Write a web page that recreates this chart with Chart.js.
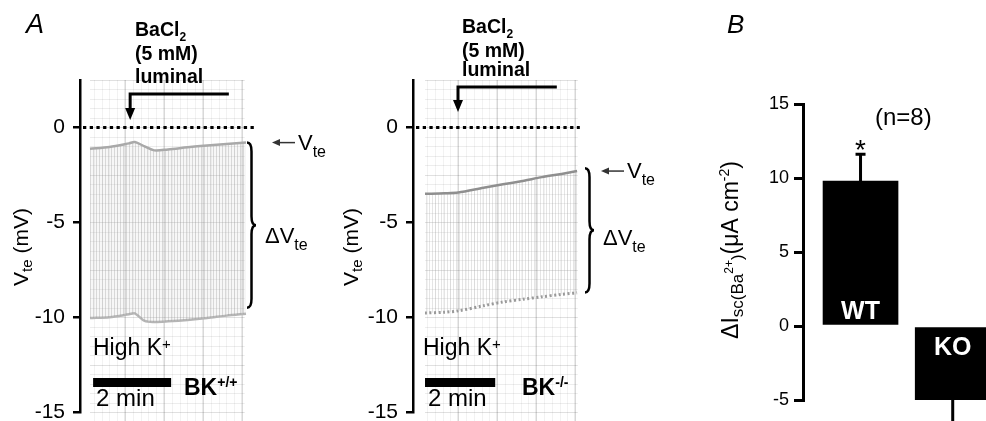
<!DOCTYPE html>
<html>
<head>
<meta charset="utf-8">
<script src="https://cdn.jsdelivr.net/npm/chart.js@4.4.1/dist/chart.umd.min.js"></script>
<style>
  html, body { margin: 0; padding: 0; background: #fff; }
  #wrap { position: relative; width: 986px; height: 421px; overflow: hidden; }
  canvas { position: absolute; top: 0; }
</style>
</head>
<body>
<div id="wrap">
  <canvas id="traceWT" width="340" height="421" style="left:0"></canvas>
  <canvas id="traceKO" width="340" height="421" style="left:330px"></canvas>
  <canvas id="barChart" width="326" height="421" style="left:660px"></canvas>
</div>
<script>
// --- data ---
const vteTicks = [0, -5, -10, -15];

// BK+/+ trace envelopes (min, mV)
const timeWT = [0, 0.5, 1.0, 1.15, 1.4, 1.65, 2.0, 2.5, 3.0, 3.5, 4.0];
const topWT = [-1.12, -1.03, -0.84, -0.77, -1.0, -1.21, -1.16, -1.05, -0.95, -0.87, -0.8];
const bottomWT = [-10.05, -10.0, -9.85, -9.8, -10.2, -10.25, -10.22, -10.15, -10.05, -9.92, -9.82];

// BK-/- trace envelopes
const timeKO = [0, 0.5, 0.85, 1.5, 2.0, 2.5, 3.0, 3.5, 3.9];
const topKO = [-3.5, -3.47, -3.43, -3.18, -3.0, -2.82, -2.62, -2.45, -2.3];
const bottomKO = [-9.78, -9.74, -9.67, -9.4, -9.2, -9.06, -8.93, -8.8, -8.72];

// panel B
const groups = ['WT', 'KO'];
const deltaIsc = [9.8, -5.0];
const deltaIscErr = [1.8, 1.6];
const iscTicks = [-5, 0, 5, 10, 15];

const FONT = "'Liberation Sans', Arial, Helvetica, sans-serif";
const f = (size, bold, italic) => (italic ? 'italic ' : '') + (bold ? 'bold ' : '') + size + 'px ' + FONT;

// text made of pieces: [text, size, dy, bold]
function rich(ctx, parts, x, y, align) {
    let w = 0;
    parts.forEach(p => { ctx.font = f(p[1], p[3]); w += ctx.measureText(p[0]).width; });
    let cx = align === 'center' ? x - w / 2 : x;
    ctx.textAlign = 'left';
    ctx.textBaseline = 'alphabetic';
    parts.forEach(p => {
        ctx.font = f(p[1], p[3]);
        ctx.fillText(p[0], cx, y + (p[2] || 0));
        cx += ctx.measureText(p[0]).width;
    });
}

function hatch(ctx, bg, line, step) {
    const c = document.createElement('canvas');
    c.width = step; c.height = 4;
    const g = c.getContext('2d');
    if (bg) { g.fillStyle = bg; g.fillRect(0, 0, step, 4); }
    g.fillStyle = line;
    g.fillRect(0, 0, 1, 4);
    return ctx.createPattern(c, 'repeat');
}

function brace(ctx, x, top, bottom, w) {
    const mid = (top + bottom) / 2, h = w * 0.5;
    ctx.beginPath();
    ctx.moveTo(x, top);
    ctx.quadraticCurveTo(x + h, top, x + h, top + w);
    ctx.lineTo(x + h, mid - w);
    ctx.quadraticCurveTo(x + h, mid, x + w, mid);
    ctx.quadraticCurveTo(x + h, mid, x + h, mid + w);
    ctx.lineTo(x + h, bottom - w);
    ctx.quadraticCurveTo(x + h, bottom, x, bottom);
    ctx.stroke();
}

// chart paper behind the trace
const paperPlugin = {
    id: 'paper',
    beforeDatasetsDraw(chart, args, o) {
        const { ctx, chartArea: a, scales: { x, y } } = chart;
        const l = x.getPixelForValue(0), r = x.getPixelForValue(o.to);
        ctx.save();
        ctx.beginPath();
        ctx.rect(l, a.top, r - l, chart.height - a.top);
        ctx.clip();
        ctx.lineWidth = 1;
        for (let v = -16; v <= 2.5; v += 0.5) {
            const py = Math.round(y.getPixelForValue(v)) + 0.5;
            ctx.strokeStyle = (v % 2.5 === 0) ? 'rgba(0,0,0,0.12)' : 'rgba(0,0,0,0.07)';
            ctx.beginPath(); ctx.moveTo(l, py); ctx.lineTo(r, py); ctx.stroke();
        }
        for (let t = o.major0 - 1; t <= o.to + 0.2; t += 0.2) {
            const px = Math.round(x.getPixelForValue(t)) + 0.5;
            ctx.strokeStyle = 'rgba(0,0,0,0.05)';
            ctx.beginPath(); ctx.moveTo(px, a.top); ctx.lineTo(px, chart.height); ctx.stroke();
        }
        ctx.lineWidth = 1.5;
        ctx.strokeStyle = 'rgba(0,0,0,0.13)';
        for (let t = o.major0; t <= o.to + 0.1; t += 1) {
            const px = x.getPixelForValue(t);
            ctx.beginPath(); ctx.moveTo(px, a.top); ctx.lineTo(px, chart.height); ctx.stroke();
        }
        ctx.restore();
    }
};

// labels, arrows and scale bar on top of a trace panel
const traceNotes = {
    id: 'notes',
    afterDraw(chart, args, o) {
        const { ctx, chartArea: a, scales: { x, y } } = chart;
        ctx.save();
        ctx.fillStyle = '#000';
        ctx.strokeStyle = '#000';

        // dotted zero line
        const y0 = y.getPixelForValue(0);
        ctx.setLineDash([3.3, 3.4]);
        ctx.lineWidth = 3;
        ctx.beginPath(); ctx.moveTo(a.left + 3, y0); ctx.lineTo(x.getPixelForValue(o.zeroEnd), y0); ctx.stroke();
        ctx.setLineDash([]);

        if (o.letter) { ctx.font = f(27, false, true); ctx.textAlign = 'left'; ctx.fillText(o.letter, 26, 33); }

        // BaCl2 application
        rich(ctx, [['BaCl', 19.5, 0, true], ['2', 12, 5, true]], o.bathX, o.bathY[0]);
        rich(ctx, [['(5 mM)', 19.5, 0, true]], o.bathX, o.bathY[1]);
        rich(ctx, [['luminal', 19.5, 0, true]], o.bathX, o.bathY[2]);
        const bx0 = x.getPixelForValue(o.bathOn), bx1 = x.getPixelForValue(o.bathEnd);
        ctx.lineWidth = 3;
        ctx.lineJoin = 'miter';
        ctx.beginPath();
        ctx.moveTo(bx1, o.bathLineY); ctx.lineTo(bx0, o.bathLineY); ctx.lineTo(bx0, o.bathTipY - 10);
        ctx.stroke();
        ctx.beginPath();
        ctx.moveTo(bx0 - 5, o.bathTipY - 12); ctx.lineTo(bx0 + 5, o.bathTipY - 12); ctx.lineTo(bx0, o.bathTipY);
        ctx.closePath(); ctx.fill();

        // Vte arrow at the end of the upper trace
        const top = o.top[o.top.length - 1];
        const ya = y.getPixelForValue(top);
        ctx.strokeStyle = '#333'; ctx.fillStyle = '#333';
        ctx.lineWidth = 1.5;
        ctx.beginPath(); ctx.moveTo(o.tipX + 6, ya); ctx.lineTo(o.tipX + 23, ya); ctx.stroke();
        ctx.beginPath(); ctx.moveTo(o.tipX, ya); ctx.lineTo(o.tipX + 8, ya - 3.5); ctx.lineTo(o.tipX + 8, ya + 3.5); ctx.closePath(); ctx.fill();
        ctx.fillStyle = '#000'; ctx.strokeStyle = '#000';
        rich(ctx, [['V', 22, 0], ['te', 16, 7]], o.tipX + 26, ya + 7);

        // brace and delta Vte
        ctx.lineWidth = 2.5;
        brace(ctx, o.braceX, y.getPixelForValue(o.brace[0]), y.getPixelForValue(o.brace[1]), 9);
        rich(ctx, [['\u0394V', 22, 0], ['te', 16, 7]], o.dX, o.dY);

        // High K+
        rich(ctx, [['High K', 23, 0], ['+', 15, -6]], 93, 355);

        // 2 min scale bar
        const s0 = x.getPixelForValue(o.bar[0]), s1 = x.getPixelForValue(o.bar[1]);
        ctx.fillRect(s0, 378, s1 - s0, 9);
        rich(ctx, [['2 min', 24, 0]], s0 + 3, 406);
        rich(ctx, [['BK', 23, 0, true], [o.bk, 14, -8, true]], o.bkX, 395);

        // axis title
        ctx.translate(28, 247);
        ctx.rotate(-Math.PI / 2);
        rich(ctx, [['V', 21, 0], ['te', 15, 4], [' (mV)', 21, 0]], 0, 0, 'center');
        ctx.restore();
    }
};

function tracePanel(id, o) {
    const ctx = document.getElementById(id).getContext('2d');
    new Chart(ctx, {
        type: 'line',
        data: {
            datasets: [{
                data: o.time.map((t, i) => ({ x: t, y: o.top[i] })),
                borderColor: o.topColor,
                borderWidth: 2.5,
                pointRadius: 0,
                tension: 0.3,
                fill: '+1',
                backgroundColor: o.pattern(ctx)
            }, {
                data: o.time.map((t, i) => ({ x: t, y: o.bottom[i] })),
                borderColor: o.bottomColor,
                borderWidth: o.bottomWidth,
                borderDash: o.bottomDash,
                pointRadius: 0,
                tension: 0.3,
                fill: false
            }]
        },
        options: {
            responsive: false,
            animation: false,
            layout: { padding: { top: 80, bottom: 9, right: 80, left: 0 } },
            plugins: {
                legend: { display: false },
                tooltip: { enabled: false },
                paper: { to: o.paperTo, major0: o.major0 },
                notes: o
            },
            scales: {
                x: { type: 'linear', display: false, min: o.xMin, max: o.xMax },
                y: {
                    min: -15,
                    max: 2.5,
                    afterBuildTicks: s => { s.ticks = vteTicks.map(v => ({ value: v })); },
                    afterFit: s => { s.width = o.axisX; s.paddingTop = 0; s.paddingBottom = 0; },
                    border: { color: '#000', width: 2.5 },
                    grid: { drawOnChartArea: false, drawTicks: true, tickLength: 7, color: '#000', lineWidth: 2.5 },
                    ticks: { color: '#000', padding: 8, font: { family: FONT, size: 21 }, callback: v => String(v) }
                }
            }
        },
        plugins: [paperPlugin, traceNotes]
    });
}

tracePanel('traceWT', {
    time: timeWT, top: topWT, bottom: bottomWT,
    topColor: '#a9a9a9', bottomColor: '#b5b5b5', bottomWidth: 2.5, bottomDash: [],
    pattern: c => hatch(c, 'rgba(200,200,200,0.15)', 'rgba(150,150,150,0.32)', 3),
    axisX: 80, xMin: -0.256, xMax: 4.359, paperTo: 3.97, major0: 0.9, zeroEnd: 4.28,
    letter: 'A',
    bathX: 135, bathY: [36, 60, 83], bathOn: 1.03, bathEnd: 3.56, bathLineY: 94, bathTipY: 120,
    tipX: 272, braceX: 247, brace: [-0.8, -9.5], dX: 265, dY: 243,
    bar: [0.08, 2.08], bk: '+/+', bkX: 184
});

tracePanel('traceKO', {
    time: timeKO, top: topKO, bottom: bottomKO,
    topColor: '#8f8f8f', bottomColor: '#9a9a9a', bottomWidth: 3, bottomDash: [2, 2.5],
    pattern: c => hatch(c, null, 'rgba(150,150,150,0.25)', 3),
    axisX: 83, xMin: -0.308, xMax: 4.231, paperTo: 3.92, major0: 0.85, zeroEnd: 3.97,
    letter: null,
    bathX: 132, bathY: [33, 57, 76], bathOn: 0.846, bathEnd: 3.38, bathLineY: 87, bathTipY: 112,
    tipX: 271, braceX: 255, brace: [-2.15, -8.7], dX: 273, dY: 245,
    bar: [0, 1.8], bk: '-/-', bkX: 192
});

// --- panel B ---
const barNotes = {
    id: 'barNotes',
    afterDatasetsDraw(chart) {
        const { ctx, scales: { y } } = chart;
        const meta = chart.getDatasetMeta(0);
        ctx.save();
        ctx.strokeStyle = '#000';
        ctx.fillStyle = '#000';
        ctx.lineWidth = 3;
        let starY = 0;
        meta.data.forEach((bar, i) => {
            const v = deltaIsc[i], dir = v >= 0 ? 1 : -1;
            const ya = y.getPixelForValue(v), yb = y.getPixelForValue(v + dir * deltaIscErr[i]);
            ctx.beginPath();
            ctx.moveTo(bar.x, ya); ctx.lineTo(bar.x, yb);
            ctx.moveTo(bar.x - 5, yb); ctx.lineTo(bar.x + 5, yb);
            ctx.stroke();
            if (i === 0) starY = yb;
        });
        ctx.textAlign = 'center';
        ctx.font = f(28);
        ctx.fillText('*', meta.data[0].x, starY + 5);

        ctx.fillStyle = '#fff';
        ctx.font = f(25, true);
        const yz = y.getPixelForValue(0);
        meta.data.forEach((bar, i) => {
            ctx.fillText(groups[i], bar.x, deltaIsc[i] >= 0 ? yz - 7 : yz + 29);
        });
        ctx.restore();
    },
    afterDraw(chart) {
        const ctx = chart.ctx;
        ctx.save();
        ctx.fillStyle = '#000';
        ctx.font = f(26, false, true);
        ctx.textAlign = 'left';
        ctx.fillText('B', 67, 33);
        rich(ctx, [['(n=8)', 24, 0]], 215, 125);
        ctx.translate(78, 250);
        ctx.rotate(-Math.PI / 2);
        rich(ctx, [['\u0394I', 23, 0], ['sc(Ba', 17, 5], ['2+', 12, -5], [')', 17, 5],
                   ['(\u03bcA cm', 23, 0], ['-2', 14, -9], [')', 23, 0]], 0, 0, 'center');
        ctx.restore();
    }
};

new Chart(document.getElementById('barChart').getContext('2d'), {
    type: 'bar',
    data: {
        datasets: [{
            data: groups.map((g, i) => ({ x: i + 1, y: deltaIsc[i] })),
            backgroundColor: '#000',
            borderWidth: 0,
            barThickness: 75
        }]
    },
    options: {
        responsive: false,
        animation: false,
        layout: { padding: { top: 104, bottom: 21, right: 0, left: 0 } },
        plugins: { legend: { display: false }, tooltip: { enabled: false } },
        scales: {
            x: {
                type: 'linear', display: false, offset: false, min: 0.376, max: 2.361,
                afterBuildTicks: s => { s.ticks = groups.map((g, i) => ({ value: i + 1 })); }
            },
            y: {
                min: -5,
                max: 15,
                afterBuildTicks: s => { s.ticks = iscTicks.map(v => ({ value: v })); },
                afterFit: s => { s.width = 143; s.paddingTop = 0; s.paddingBottom = 0; },
                border: { color: '#000', width: 3 },
                grid: { drawOnChartArea: false, drawTicks: true, tickLength: 9, color: '#000', lineWidth: 3 },
                ticks: { color: '#000', padding: 5, font: { family: FONT, size: 18 }, callback: v => String(v) }
            }
        }
    },
    plugins: [barNotes]
});
</script>
</body>
</html>
